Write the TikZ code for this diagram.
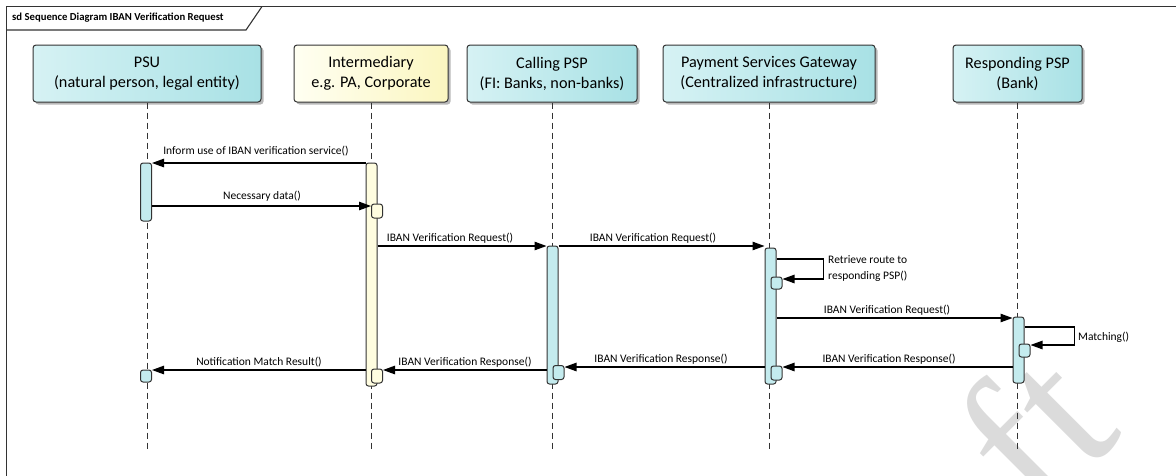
\documentclass[tikz,border=0pt]{standalone}
\usepackage{fontspec}
\setmainfont{Carlito}
\newfontfamily\wmfont{Liberation Serif}
\usetikzlibrary{arrows.meta,shadows}

\definecolor{cyanL}{HTML}{D6F2F4}
\definecolor{cyanR}{HTML}{A8E1E5}
\definecolor{cyanAct}{HTML}{C4EBEE}
\definecolor{yelL}{HTML}{FFFFF2}
\definecolor{yelR}{HTML}{FBF6C0}
\definecolor{yelAct}{HTML}{FFFDE0}
\definecolor{lineC}{HTML}{333333}

\begin{document}
\begin{tikzpicture}[x=1pt,y=-1pt,
  head/.style={draw=lineC, line width=1pt, rounded corners=3pt, align=center,
    font=\fontsize{16.2}{20}\selectfont, inner sep=0pt,
    general shadow={fill=black!28, shadow xshift=2.5pt, shadow yshift=-2.5pt}},
  cyanhead/.style={head, left color=cyanL, right color=cyanR},
  yelhead/.style={head, left color=yelL, right color=yelR},
  act/.style={draw=lineC, line width=1pt, rounded corners=2.5pt, inner sep=0pt,
    minimum width=11pt},
  cyanact/.style={act, fill=cyanAct},
  yelact/.style={act, fill=yelAct},
  lifeline/.style={draw=lineC, line width=1pt, dash pattern=on 6pt off 4pt},
  msg/.style={draw=black, line width=1.1pt, -{Triangle[length=12pt,width=8.5pt]}},
  lbl/.style={font=\fontsize{11.5}{13}\selectfont, inner sep=0pt},
]
\useasboundingbox (0,0) rectangle (1176,475);
\clip (0,0) rectangle (1176,475);

% watermark
\node[font=\wmfont\fontsize{200}{200}\selectfont, text=black!14, rotate=45,
  anchor=base west, inner sep=0pt] (wm) at (1038,521) {ft};

% frame and title tab
\draw[lineC, line width=1.1pt] (6.5,6.5) rectangle (1200,500);
\draw[lineC, line width=1.1pt] (6.5,30) -- (246,30) -- (262,6.5);
\node[font=\bfseries\fontsize{10.7}{12}\selectfont, anchor=west, inner sep=0pt] (title)
  at (12,18) {sd Sequence Diagram IBAN Verification Request};

% lifeline heads
\node[cyanhead, minimum width=228pt, minimum height=57pt] (psu) at (147,73.5)
  {PSU\\(natural person, legal entity)};
\node[yelhead, minimum width=154pt, minimum height=57pt] (int) at (371,73.5)
  {Intermediary\\e.g. PA, Corporate};
\node[cyanhead, minimum width=170pt, minimum height=57pt] (call) at (552,73.5)
  {Calling PSP\\(FI: Banks, non-banks)};
\node[cyanhead, minimum width=212pt, minimum height=57pt] (gw) at (769,73.5)
  {Payment Services Gateway\\(Centralized infrastructure)};
\node[cyanhead, minimum width=129pt, minimum height=57pt] (resp) at (1017.5,73.5)
  {Responding PSP\\(Bank)};

% lifelines
\foreach \n in {psu,int,call,gw,resp}
  \draw[lifeline] (\n.south) -- (\n.south |- 0,452);

% activation bars
\node[cyanact, minimum height=58pt] (aPSU) at (146,192) {};
\node[cyanact, minimum height=12pt] (aPSUs) at (146,376) {};
\node[yelact, minimum height=223pt] (aInt) at (371.5,274.5) {};
\node[yelact, minimum height=14pt] (aInts1) at (377,211) {};
\node[yelact, minimum height=14pt] (aInts2) at (377,376) {};
\node[cyanact, minimum height=138pt] (aCall) at (552.5,315) {};
\node[cyanact, minimum height=14pt] (aCalls) at (558.5,372.5) {};
\node[cyanact, minimum height=136pt] (aGw) at (770.5,316) {};
\node[cyanact, minimum height=12pt] (aGws1) at (776.5,283) {};
\node[cyanact, minimum height=14pt] (aGws2) at (776.5,373) {};
\node[cyanact, minimum height=66pt] (aResp) at (1018.5,350) {};
\node[cyanact, minimum height=13pt] (aResps) at (1024.5,350.5) {};

% messages
\draw[msg] (aInt.west |- 0,163) -- (aPSU.east |- 0,163);
\node[lbl] (l1) at (256,151) {Inform use of IBAN verification service()};

\draw[msg] (aPSU.east |- 0,206) -- (aInts1.west |- 0,206);
\node[lbl] (l2) at (262,196) {Necessary data()};

\draw[msg] (aInt.east |- 0,246) -- (aCall.west |- 0,246);
\node[lbl] (l3) at (450,238) {IBAN Verification Request()};

\draw[msg] (aCall.east |- 0,246) -- (aGw.west |- 0,246);
\node[lbl] (l4) at (653,238) {IBAN Verification Request()};

\draw[msg] (aGw.east |- 0,259) -- ++(47,0) -- ++(0,20) -- (aGws1.east |- 0,279);
\node[lbl, anchor=west, align=left, font=\fontsize{11.5}{16}\selectfont] (l5)
  at (828,269) {Retrieve route to\\responding PSP()};

\draw[msg] (aGw.east |- 0,318) -- (aResp.west |- 0,318);
\node[lbl] (l6) at (887,310) {IBAN Verification Request()};

\draw[msg] (aResp.east |- 0,327) -- ++(50,0) -- ++(0,18) -- (aResps.east |- 0,345);
\node[lbl, anchor=west] (l7) at (1078,337) {Matching()};

\draw[msg] (aResp.west |- 0,367) -- (aGws2.east |- 0,367);
\node[lbl] (l8) at (889,359) {IBAN Verification Response()};

\draw[msg] (aGw.west |- 0,367) -- (aCalls.east |- 0,367);
\node[lbl] (l9) at (661,359) {IBAN Verification Response()};

\draw[msg] (aCall.west |- 0,370) -- (aInts2.east |- 0,370);
\node[lbl] (l10) at (465,362) {IBAN Verification Response()};

\draw[msg] (aInt.west |- 0,370) -- (aPSUs.east |- 0,370);
\node[lbl] (l11) at (259,362) {Notification Match Result()};
\end{tikzpicture}
\end{document}
